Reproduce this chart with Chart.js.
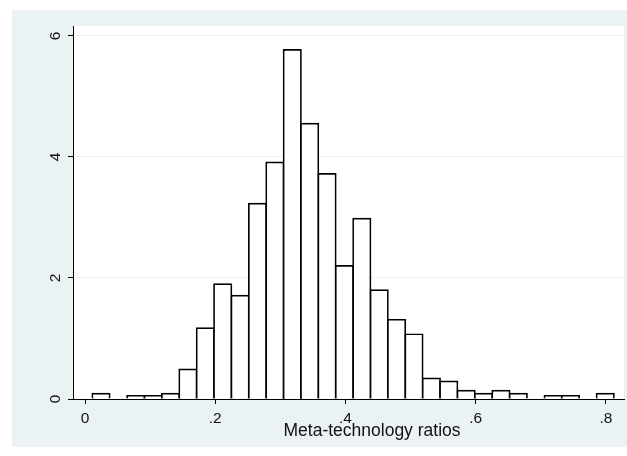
<!DOCTYPE html>
<html>
<head>
<meta charset="utf-8">
<script src="https://cdn.jsdelivr.net/npm/chart.js@4/dist/chart.umd.min.js"></script>
<style>
  html, body { margin: 0; padding: 0; background: #fff; }
  #wrap { width: 627px; height: 456px; }
</style>
</head>
<body>
<div id="wrap"><canvas id="c" width="627" height="456"></canvas></div>
<script>
// Histogram of meta-technology ratios on a density scale, 30 equal-width bins
const binStart = 0.0112;
const binWidth = 0.0267;
const density = [0.09, null, 0.05, 0.05, 0.09, 0.49, 1.17, 1.90, 1.71, 3.23,
                 3.91, 5.77, 4.55, 3.72, 2.20, 2.98, 1.80, 1.31, 1.07, 0.34,
                 0.29, 0.14, 0.09, 0.14, 0.09, null, 0.05, 0.05, null, 0.09];
const xTickValues = [0, 0.2, 0.4, 0.6, 0.8];
const xTickLabels = ['0', '.2', '.4', '.6', '.8'];
const yTickValues = [0, 2, 4, 6];
const yTickLabels = ['0', '2', '4', '6'];
const xTitle = 'Meta-technology ratios';

const FONT = '"Liberation Sans", Arial, sans-serif';
const TEXT = '#111';

const points = density.map((d, i) => ({ x: binStart + (i + 0.5) * binWidth, y: d }));

// graph region (light bluish grey) and white plot region
const framePlugin = {
  id: 'frame',
  beforeDraw(chart) {
    const c = chart.ctx, a = chart.chartArea;
    c.save();
    c.fillStyle = '#fff';
    c.fillRect(0, 0, chart.width, chart.height);
    c.fillStyle = '#eaf2f3';
    c.fillRect(12, 10, chart.width - 12, 437);
    c.fillStyle = '#fff';
    c.fillRect(a.left, a.top, a.right - a.left, a.bottom - a.top);
    c.restore();
  }
};

// tick labels (rotated on the y axis) and the x-axis title
const labelPlugin = {
  id: 'labels',
  afterDraw(chart) {
    const c = chart.ctx;
    const xs = chart.scales.x, ys = chart.scales.y;
    c.save();
    c.fillStyle = TEXT;
    c.font = '15.5px ' + FONT;
    c.textAlign = 'center';
    c.textBaseline = 'alphabetic';
    xTickValues.forEach((v, i) => {
      c.fillText(xTickLabels[i], xs.getPixelForValue(v), 423);
    });
    yTickValues.forEach((v, i) => {
      c.save();
      c.translate(60, ys.getPixelForValue(v));
      c.rotate(-Math.PI / 2);
      c.fillText(yTickLabels[i], 0, 0);
      c.restore();
    });
    c.font = '17.5px ' + FONT;
    c.fillText(xTitle, 372, 436);
    c.restore();
  }
};

new Chart(document.getElementById('c'), {
  type: 'bar',
  data: {
    datasets: [{
      data: points,
      backgroundColor: '#fff',
      borderColor: '#000',
      borderWidth: 1.7,
      borderSkipped: 'start',
      inflateAmount: 0.85,
      barPercentage: 1,
      categoryPercentage: 1
    }]
  },
  options: {
    responsive: false,
    animation: false,
    devicePixelRatio: 1,
    layout: { padding: { left: 0, top: 26, right: 3, bottom: 0 } },
    plugins: { legend: { display: false }, tooltip: { enabled: false } },
    scales: {
      x: {
        type: 'linear',
        min: -0.01843,
        max: 0.82764,
        offset: false,
        afterBuildTicks: s => { s.ticks = xTickValues.map(v => ({ value: v })); },
        afterFit: s => { s.height = 57; },
        ticks: { display: false },
        grid: { offset: false, drawOnChartArea: false, drawTicks: true, tickLength: 5, tickColor: '#000', tickWidth: 1 },
        border: { display: true, color: '#000', width: 1, z: 1 }
      },
      y: {
        type: 'linear',
        min: 0,
        max: 6.165,
        afterBuildTicks: s => { s.ticks = yTickValues.map(v => ({ value: v })); },
        afterFit: s => { s.width = 73; },
        ticks: { display: false },
        grid: { color: '#eaf2f3', lineWidth: 1, drawTicks: true, tickLength: 5, tickColor: '#000', tickWidth: 1 },
        border: { display: true, color: '#000', width: 1, z: 1 }
      }
    }
  },
  plugins: [framePlugin, labelPlugin]
});
</script>
</body>
</html>
